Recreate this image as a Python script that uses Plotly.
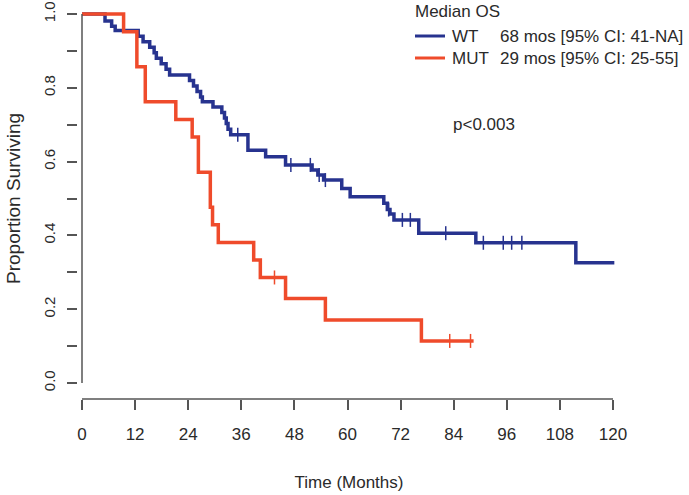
import plotly.graph_objects as go
import numpy as np

# ---- data ----
wt_time = [0, 5.2, 6.7, 7.5, 12.7, 13.8, 15.3, 16.3, 16.8, 17.9, 19.0, 19.8,
           24.3, 25.2, 26.0, 26.8, 27.2, 29.6, 31.6, 32.2, 32.6, 33.0, 33.6,
           37.5, 41.5, 46.0, 52.0, 53.3, 54.6, 58.7, 60.6, 68.2, 69.0, 69.6,
           70.5, 76.1, 89.0, 111.6, 120.3]
wt_surv = [1.0, 0.981, 0.967, 0.955, 0.94, 0.925, 0.91, 0.895, 0.88, 0.865, 0.85, 0.835,
           0.82, 0.805, 0.79, 0.775, 0.762, 0.748, 0.733, 0.718, 0.703, 0.688, 0.673,
           0.631, 0.613, 0.591, 0.577, 0.564, 0.55, 0.527, 0.505, 0.487, 0.47, 0.458,
           0.442, 0.406, 0.38, 0.326, 0.326]
wt_censor = [35.2, 47.2, 51.6, 53.6, 55.0, 69.3, 72.4, 74.2, 82.2,
             90.7, 95.2, 97.1, 99.4]

mut_time = [0, 9.4, 12.4, 14.3, 21.2, 24.9, 26.3, 29.0, 29.5, 30.8, 38.8, 40.3,
            46.0, 55.0, 76.7, 88.5]
mut_surv = [1.0, 0.952, 0.857, 0.762, 0.714, 0.667, 0.571, 0.476, 0.429, 0.381,
            0.333, 0.286, 0.229, 0.171, 0.114, 0.114]
mut_censor = [43.5, 83.1, 87.8]

x_ticks = [0, 12, 24, 36, 48, 60, 72, 84, 96, 108, 120]
y_ticks = [0.0, 0.1, 0.2, 0.3, 0.4, 0.5, 0.6, 0.7, 0.8, 0.9, 1.0]
y_ticklabels = ["0.0", "", "0.2", "", "0.4", "", "0.6", "", "0.8", "", "1.0"]

series_names = ["WT", "MUT"]
median_text = ["68 mos [95% CI: 41-NA]", "29 mos [95% CI: 25-55]"]
legend_title = "Median OS"
p_text = "p<0.003"
x_title = "Time (Months)"
y_title = "Proportion Surviving"

BLUE = "#27338f"
RED = "#ef4b2b"
AXIS = "#555555"
TXT = "#2a2a2a"


def surv_at(times, surv, t):
    idx = np.searchsorted(times, t, side="right") - 1
    return surv[idx]


# ---- layout geometry (pixels) ----
W, H = 689, 495
L, R, T, B = 78, 69, 10, 96
pw, ph = W - L - R, H - T - B
x0_px, x120_px = 82, 613
ppm = (x120_px - x0_px) / 120.0
x_range = [-(x0_px - L) / ppm, 120 + (W - R - x120_px) / ppm]
y_top_px, y0_px = 14, 383
ppu = (y0_px - y_top_px) / 1.0
y_range = [-((H - B) - y0_px) / ppu, 1.0 + (y_top_px - T) / ppu]


def px(xp):
    return (xp - L) / pw


def py(yp):
    return (H - B - yp) / ph


fig = go.Figure()

colors = [BLUE, RED]
fig.add_trace(go.Scatter(x=wt_time, y=wt_surv, mode="lines", line_shape="hv",
                         line=dict(color=BLUE, width=3.5), name=series_names[0],
                         showlegend=False))
fig.add_trace(go.Scatter(x=mut_time, y=mut_surv, mode="lines", line_shape="hv",
                         line=dict(color=RED, width=3.5), name=series_names[1],
                         showlegend=False))

fig.add_trace(go.Scatter(x=wt_censor, y=[surv_at(wt_time, wt_surv, t) for t in wt_censor],
                         mode="markers", showlegend=False, hoverinfo="skip",
                         marker=dict(symbol="line-ns", size=10,
                                     line=dict(color=BLUE, width=1.5))))
fig.add_trace(go.Scatter(x=mut_censor, y=[surv_at(mut_time, mut_surv, t) for t in mut_censor],
                         mode="markers", showlegend=False, hoverinfo="skip",
                         marker=dict(symbol="line-ns", size=10,
                                     line=dict(color=RED, width=1.5))))

regular = "Liberation Sans, Arial, sans-serif"

fig.update_layout(
    width=W, height=H,
    margin=dict(l=L, r=R, t=T, b=B, autoexpand=False),
    paper_bgcolor="white", plot_bgcolor="white",
    font=dict(family=regular, color=TXT, size=17),
    showlegend=False,
    xaxis=dict(
        range=x_range, tickvals=x_ticks, ticktext=[str(v) for v in x_ticks],
        showgrid=False, zeroline=False, showline=False,
        ticks="outside", ticklen=10, tickwidth=1.5, tickcolor=AXIS,
        tickfont=dict(family=regular, size=17, color=TXT),
        ticklabelstandoff=10,
        title=dict(text=x_title, font=dict(family=regular, size=17, color=TXT),
                   standoff=32),
    ),
    yaxis=dict(
        range=y_range, tickvals=y_ticks, ticktext=y_ticklabels,
        showgrid=False, zeroline=False, showline=False,
        ticks="outside", ticklen=10, tickwidth=1.5, tickcolor=AXIS,
        tickangle=-90,
        tickfont=dict(family=regular, size=15, color=TXT),
        ticklabelstandoff=6,
    ),
)

# y-axis title placed as rotated text
fig.add_annotation(xref="paper", yref="paper", x=px(13), y=py(199), xanchor="center",
                   yanchor="middle", text=y_title, textangle=-90, showarrow=False,
                   font=dict(size=19, color=TXT))

# axis lines (R style, spanning the tick range only)
fig.add_shape(type="line", xref="x", yref="paper", x0=0, x1=120, y0=0, y1=0,
              line=dict(color=AXIS, width=1.5))
fig.add_shape(type="line", xref="paper", yref="y", x0=px(x0_px), x1=px(x0_px), y0=0, y1=1,
              line=dict(color=AXIS, width=1.5))

# legend block (R-style legend drawn with shapes + text)
fig.add_annotation(xref="paper", yref="paper", x=px(413), y=py(11), xanchor="left",
                   yanchor="middle", text=legend_title, showarrow=False,
                   font=dict(size=17, color=TXT))
key_y = [36, 58]
for i in range(2):
    fig.add_shape(type="line", xref="paper", yref="paper",
                  x0=px(415), x1=px(445), y0=py(key_y[i]), y1=py(key_y[i]),
                  line=dict(color=colors[i], width=3))
    fig.add_annotation(xref="paper", yref="paper", x=px(450), y=py(key_y[i]),
                       xanchor="left", yanchor="middle", text=series_names[i],
                       showarrow=False, font=dict(size=17, color=TXT))
    fig.add_annotation(xref="paper", yref="paper", x=px(498), y=py(key_y[i]),
                       xanchor="left", yanchor="middle", text=median_text[i],
                       showarrow=False, font=dict(size=17, color=TXT))

fig.add_annotation(xref="paper", yref="paper", x=px(451), y=py(124), xanchor="left",
                   yanchor="middle", text=p_text, showarrow=False,
                   font=dict(size=17, color=TXT))

fig.write_html("out.html", config={"displayModeBar": False},
               post_script="document.body.style.margin='0';document.body.style.padding='0';")
